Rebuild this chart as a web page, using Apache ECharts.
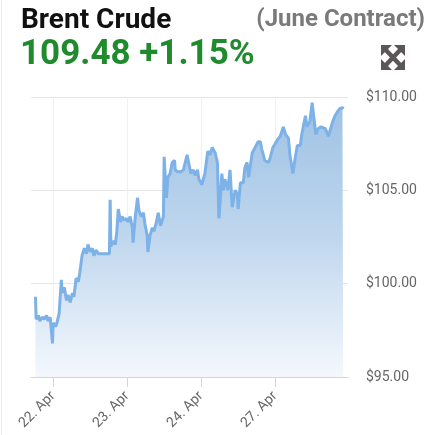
<!DOCTYPE html>
<html>
<head>
<meta charset="utf-8">
<script src="https://cdn.jsdelivr.net/npm/echarts@6/dist/echarts.min.js"></script>
<style>
html,body{margin:0;padding:0;background:#fff;}
#c{width:445px;height:435px;}
</style>
</head>
<body>
<div id="c"></div>
<script>
// Trading-day offsets (0 = 22 Apr tick, 1 = 23 Apr, 2 = 24 Apr, 3 = 27 Apr)
const times = [
 -0.24,-0.23,-0.20,-0.18,-0.15,-0.12,-0.09,-0.07,-0.04,-0.01,
 0.00,0.03,0.05,0.08,0.11,0.12,0.15,0.18,0.20,0.23,
 0.26,0.28,0.31,0.34,0.36,0.39,0.42,0.45,0.47,0.50,
 0.53,0.55,0.58,0.61,0.66,0.72,0.76,0.77,0.78,0.81,
 0.84,0.86,0.88,0.91,0.93,0.96,0.99,1.01,1.04,1.07,
 1.08,1.11,1.14,1.16,1.19,1.22,1.24,1.27,1.28,1.31,
 1.34,1.36,1.39,1.42,1.45,1.47,1.49,1.50,1.53,1.55,
 1.58,1.61,1.64,1.65,1.68,1.70,1.73,1.76,1.78,1.81,
 1.84,1.86,1.89,1.92,1.95,1.97,2.01,2.05,2.09,2.12,
 2.15,2.19,2.22,2.24,2.26,2.28,2.30,2.32,2.35,2.36,
 2.39,2.42,2.46,2.49,2.50,2.53,2.57,2.59,2.62,2.64,
 2.66,2.69,2.73,2.77,2.80,2.82,2.86,2.91,2.93,2.97,
 3.03,3.07,3.11,3.14,3.18,3.20,3.24,3.27,3.30,3.34,
 3.36,3.41,3.43,3.47,3.50,3.51,3.55,3.58,3.62,3.68,
 3.72,3.74,3.78,3.81,3.84,3.88,3.91,3.92
];
const prices = [
 99.3,98.1,98.3,98.0,98.2,98.1,98.3,98.0,98.2,96.8,
 97.9,97.7,97.9,98.4,100.2,99.5,99.8,99.1,99.4,99.0,
 99.5,99.3,100.3,100.1,100.6,101.5,101.9,101.6,102.1,101.7,
 101.9,101.5,101.8,101.6,101.6,101.6,101.6,104.5,102.0,102.3,
 102.1,102.8,104.0,103.3,103.6,103.4,103.5,103.3,103.6,103.0,
 102.2,103.6,104.6,103.9,103.6,103.8,103.2,102.6,101.7,102.6,
 103.0,102.8,103.2,103.8,103.1,103.0,103.6,106.8,104.6,105.7,
 105.9,106.5,106.6,106.1,106.0,106.1,106.0,106.1,106.0,106.9,
 106.3,105.9,106.1,105.8,106.1,105.6,105.3,105.9,107.1,106.9,
 107.3,107.0,106.5,103.5,104.6,105.9,105.0,105.6,105.2,105.0,
 106.1,104.1,105.0,104.8,104.0,105.4,105.4,106.2,106.5,105.7,
 106.2,107.0,107.3,107.6,107.6,107.2,106.6,106.5,106.7,107.3,
 107.7,107.9,108.4,108.0,107.8,106.9,105.9,106.7,107.4,107.4,
 108.0,109.0,108.4,108.7,109.7,109.6,108.0,108.3,108.4,108.3,
 107.9,107.9,108.7,109.0,109.2,109.4,109.4,109.48
];
const tickDays = [0, 1, 2, 3];
const tickLabels = ['22. Apr', '23. Apr', '24. Apr', '27. Apr'];
const yTicks = [95, 100, 105, 110];
const titleText = 'Brent Crude';
const priceText = '109.48 +1.15%';
const contractText = '(June Contract)';

const chart = echarts.init(document.getElementById('c'), null, {renderer: 'canvas'});
const FONT = 'Roboto, "Noto Sans", sans-serif';
const option = {
  animation: false,
  textStyle: {fontFamily: FONT},
  grid: {left: 31, right: 97, top: 97, bottom: 58, containLabel: false},
  xAxis: {
    type: 'value',
    min: -0.3,
    max: 3.985,
    axisLine: {show: true, onZero: false, lineStyle: {color: '#ccd6eb', width: 1}},
    axisTick: {show: true, customValues: tickDays, length: 10, lineStyle: {color: '#ccd6eb'}},
    axisLabel: {
      customValues: tickDays,
      rotate: 45,
      margin: 17,
      color: '#666',
      fontSize: 14,
      fontFamily: FONT,
      formatter: function (v) { const i = tickDays.indexOf(Math.round(v)); return i >= 0 ? tickLabels[i] : ''; }
    },
    splitLine: {show: true, lineStyle: {color: '#f0f0f0', width: 1}}
  },
  yAxis: {
    type: 'value',
    position: 'right',
    min: yTicks[0],
    max: yTicks[yTicks.length - 1],
    interval: 5,
    axisLine: {show: false},
    axisTick: {show: false},
    axisLabel: {
      margin: 18, color: '#666', fontSize: 14, fontFamily: FONT,
      formatter: function (v) { return '$' + v.toFixed(2); }
    },
    splitLine: {show: true, lineStyle: {color: '#e6e6e6', width: 1}}
  },
  series: [{
    type: 'line',
    data: times.map((t, i) => [t, prices[i]]),
    showSymbol: false,
    symbol: 'none',
    lineStyle: {color: '#7cb2e8', width: 3},
    areaStyle: {
      origin: 'start',
      opacity: 1,
      color: new echarts.graphic.LinearGradient(0, 0, 0, 1, [
        {offset: 0, color: '#9ec2e4'},
        {offset: 0.5, color: '#c0d7ee'},
        {offset: 1, color: '#f4f8fd'}
      ])
    }
  }],
  graphic: [
    {type: 'line', shape: {x1: 1.5, y1: 0, x2: 1.5, y2: 435}, style: {stroke: '#ececec', lineWidth: 1}, silent: true},
    {type: 'text', left: 21, top: 7, style: {text: titleText, fill: '#111', font: 'bold 28px ' + FONT}},
    {type: 'text', left: 20, top: 38, style: {text: priceText, fill: '#1f8b2c', font: 'bold 35px ' + FONT}},
    {type: 'text', right: 20, top: 8, style: {text: contractText, fill: '#7a7a7a', font: 'bold 24px ' + FONT}},
    {type: 'group', left: 381, top: 45, children: [
      {type: 'polygon', shape: {points: [[0,0],[11,0],[0,11]]}, style: {fill: '#5b5759'}},
      {type: 'polygon', shape: {points: [[24,0],[13,0],[24,11]]}, style: {fill: '#5b5759'}},
      {type: 'polygon', shape: {points: [[0,25],[11,25],[0,14]]}, style: {fill: '#5b5759'}},
      {type: 'polygon', shape: {points: [[24,25],[13,25],[24,14]]}, style: {fill: '#5b5759'}},
      {type: 'line', shape: {x1: 3, y1: 3, x2: 21, y2: 22}, style: {stroke: '#5b5759', lineWidth: 4.5}},
      {type: 'line', shape: {x1: 21, y1: 3, x2: 3, y2: 22}, style: {stroke: '#5b5759', lineWidth: 4.5}}
    ]}
  ]
};
chart.setOption(option);
</script>
</body>
</html>
